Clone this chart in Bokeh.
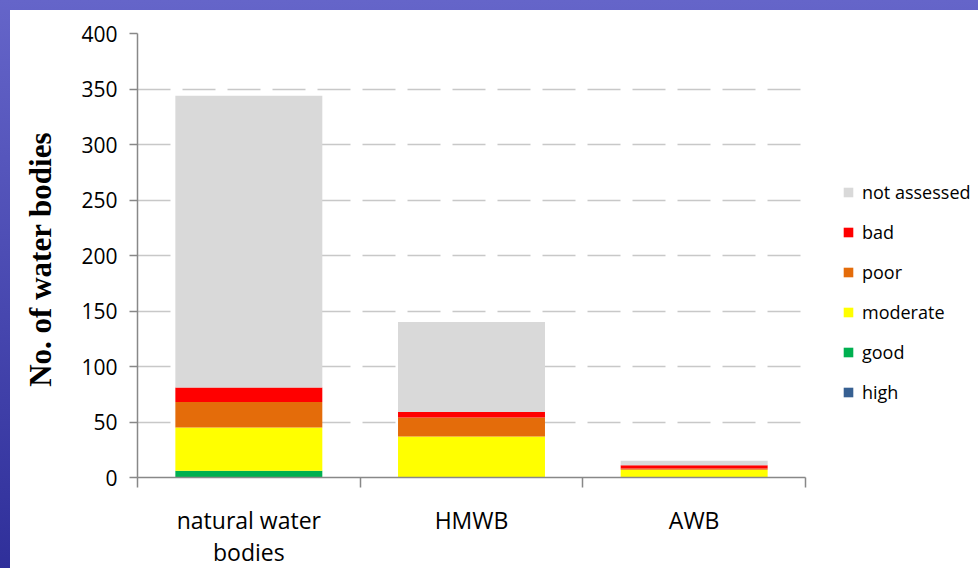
from bokeh.plotting import figure
from bokeh.models import (ColumnDataSource, Range1d, FixedTicker, Legend, LegendItem)
from bokeh.embed import file_html
from bokeh.resources import INLINE

# ---- data ----
categories = ["natural water bodies", "HMWB", "AWB"]
tick_labels = ["natural water\nbodies", "HMWB", "AWB"]
high = [0, 0, 0]
good = [6, 0, 0]
moderate = [39, 37, 7]
poor = [23, 17, 1]
bad = [13, 5, 3]
not_assessed = [263, 81, 4]
series_names = ["high", "good", "moderate", "poor", "bad", "not assessed"]
series_colors = ["#376092", "#00b050", "#ffff00", "#e46c0a", "#ff0000", "#d9d9d9"]
y_ticks = [0, 50, 100, 150, 200, 250, 300, 350, 400]

xpos = [i + 0.5 for i in range(len(categories))]
source = ColumnDataSource(data=dict(
    x=xpos, cat=categories,
    high=high, good=good, moderate=moderate, poor=poor, bad=bad,
    not_assessed=not_assessed,
))
stack_keys = ["high", "good", "moderate", "poor", "bad", "not_assessed"]

p = figure(
    output_backend="svg", toolbar_location=None,
    frame_width=668, frame_height=444,
    min_border_left=137, min_border_right=165,
    min_border_top=33, min_border_bottom=91,
    x_range=Range1d(0, len(categories)), y_range=Range1d(0, 400),
    background_fill_color="white", border_fill_color=None,
)
p.styles = {
    "background": ("linear-gradient(#ffffff, #ffffff) 10px 10px / "
                   "calc(100% - 10px) calc(100% - 10px) no-repeat, "
                   "linear-gradient(to bottom, #6565c9, #2f2f9a)"),
}
p.outline_line_color = None

renderers = p.vbar_stack(stack_keys, x="x", width=0.66, color=series_colors,
                         line_color=None, source=source)

items = [LegendItem(label=n, renderers=[r]) for n, r in zip(series_names, renderers)]
legend = Legend(items=list(reversed(items)), location=(37, 73),
                padding=0, margin=0, spacing=16,
                glyph_width=12, glyph_height=12, label_height=24,
                label_standoff=8, border_line_alpha=0, background_fill_alpha=0,
                label_text_font="Open Sans", label_text_font_size="18px",
                label_text_color="#000000")
p.add_layout(legend, "right")

# x axis
xa = p.xaxis[0]
xa.ticker = FixedTicker(ticks=xpos, minor_ticks=list(range(len(categories) + 1)))
xa.major_label_overrides = {x: t for x, t in zip(xpos, tick_labels)}
xa.major_tick_out = 0
xa.major_tick_in = 0
xa.minor_tick_out = 10
xa.minor_tick_in = 0
xa.minor_tick_line_color = "#888888"
xa.minor_tick_line_width = 1.5
xa.axis_line_color = "#888888"
xa.axis_line_width = 1.5
xa.major_label_text_font = "Open Sans"
xa.major_label_text_font_size = "23px"
xa.major_label_text_color = "#000000"
xa.major_label_text_line_height = 1.0
xa.major_label_standoff = 16

# y axis
ya = p.yaxis[0]
ya.ticker = FixedTicker(ticks=y_ticks)
ya.minor_tick_line_color = None
ya.major_tick_out = 8
ya.major_tick_in = 0
ya.major_tick_line_color = "#888888"
ya.major_tick_line_width = 1.5
ya.axis_line_color = "#888888"
ya.axis_line_width = 1.5
ya.major_label_text_font = "Open Sans"
ya.major_label_text_font_size = "21px"
ya.major_label_text_color = "#000000"
ya.major_label_standoff = 12
ya.axis_label = "No. of  water bodies"
ya.axis_label_text_font = "Liberation Serif"
ya.axis_label_text_font_style = "bold"
ya.axis_label_text_font_size = "31px"
ya.axis_label_text_color = "#000000"
ya.axis_label_standoff = 20

p.xgrid.grid_line_color = None
p.ygrid.grid_line_color = "#c8c8c8"
p.ygrid.grid_line_width = 1.5
p.ygrid.grid_line_dash = "33 12"

open("out.html", "w").write(file_html(p, INLINE))
